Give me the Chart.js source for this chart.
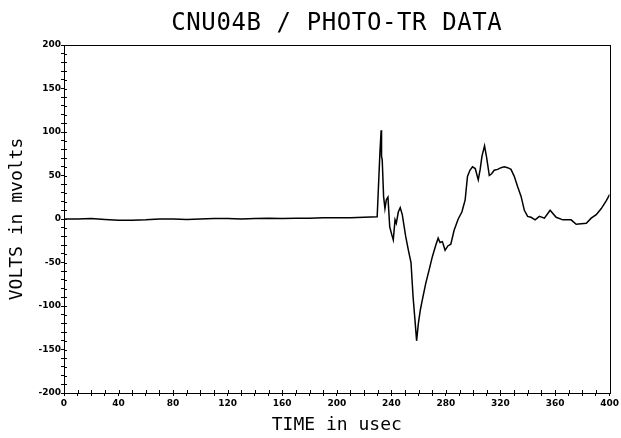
<!DOCTYPE html>
<html><head><meta charset="utf-8">
<script src="https://cdn.jsdelivr.net/npm/chart.js@4.4.0/dist/chart.umd.min.js"></script>
<style>html,body{margin:0;padding:0;background:#fff;}</style>
</head><body>
<canvas id="c" width="621" height="438" style="width:621px;height:438px;display:block"></canvas>
<script>
const titleText = 'CNU04B / PHOTO-TR DATA';
const xTitle = 'TIME in usec';
const yTitle = 'VOLTS in mvolts';
const xTickLabels = [0, 40, 80, 120, 160, 200, 240, 280, 320, 360, 400];
const yTickLabels = [-200, -150, -100, -50, 0, 50, 100, 150, 200];

const times = [0,10,20,30,40,50,60,70,80,90,100,110,120,130,140,150,160,170,180,190,200,210,220,229.6,
  231.6,232.5,232.8,233.3,234.3,235.3,236.3,237.5,238.8,240.3,241.4,242.7,243.6,245.1,246.5,248.0,
  250.5,252.5,254.4,255.9,257.4,258.5,259.8,261.3,262.7,265.2,267.6,270.1,272.6,274.3,275.7,277.4,
  279.4,281.4,283.6,286.0,289.0,291.7,294.1,295.8,297.6,299.5,301.5,303.7,305.1,306.4,308.3,309.8,
  311.8,313.5,315.4,317.9,320.4,322.8,325.2,327.7,330.1,332.6,335.1,337.5,339.9,342.4,345.4,348.5,
  352.2,356.4,360.8,365.7,371.8,375.5,382.9,386.5,390.2,393.9,397.6,400];
const volts = [0,0,0.5,-0.5,-1.5,-1.5,-1,0,0,-0.5,0,0.5,0.5,0,0.5,1,0.5,1,1,1.5,1.5,1.5,2,2.6,
  76,102,72,68,26,12,22,25,-9,-18,-24,-1,-5,8,13,5,
  -20,-36,-50,-89,-118,-140,-120,-104,-93,-74,-59,-43,-30,-22,-27,-26,
  -36,-31,-29,-13,0,8,22,49,56,60,58,45,57,72,84,71,
  50,52,56,57,59,60,59,57,49,37,26,10,3,2,-1,3,
  1,10,2,-1,-1,-6,-5,1,5,12,21,28];

const frame = {
  id: 'frame',
  afterDraw(chart) {
    const {ctx, chartArea: a, scales: {x, y}} = chart;
    ctx.save();
    ctx.strokeStyle = '#000';
    ctx.lineWidth = 1;
    ctx.strokeRect(Math.round(a.left) + 0.5, Math.round(a.top) + 0.5,
      Math.round(a.right - a.left), Math.round(a.bottom - a.top));
    ctx.beginPath();
    x.ticks.forEach(t => {
      const px = Math.round(x.getPixelForValue(t.value)) + 0.5;
      ctx.moveTo(px, a.bottom); ctx.lineTo(px, a.bottom - 3);
    });
    y.ticks.forEach(t => {
      const py = Math.round(y.getPixelForValue(t.value)) + 0.5;
      ctx.moveTo(a.left, py); ctx.lineTo(a.left + 3, py);
    });
    ctx.stroke();
    // chart title, centred over the plot area
    ctx.fillStyle = '#000';
    ctx.font = 'normal 24px "DejaVu Sans Mono"';
    if ('letterSpacing' in ctx) ctx.letterSpacing = '0.6px';
    ctx.textAlign = 'center';
    ctx.textBaseline = 'alphabetic';
    ctx.fillText(titleText, (a.left + a.right) / 2, 30);
    ctx.restore();
  }
};

const tickFont = {family: 'DejaVu Sans', size: 9, weight: 'bold'};
const titleFont = {family: 'DejaVu Sans Mono', size: 18, weight: 'normal'};

new Chart(document.getElementById('c'), {
  type: 'line',
  data: {
    datasets: [{
      data: times.map((t, i) => ({x: t, y: volts[i]})),
      borderColor: '#000',
      borderWidth: 1.5,
      pointRadius: 0,
      tension: 0,
      fill: false
    }]
  },
  options: {
    responsive: false,
    animation: false,
    layout: {padding: {left: 0, right: 10, top: 45, bottom: 0}},
    plugins: {
      legend: {display: false},
      tooltip: {enabled: false},
      title: {display: false}
    },
    scales: {
      x: {
        type: 'linear',
        min: 0, max: 400,
        afterFit(s) { s.height = 45; },
        grid: {drawOnChartArea: false, drawTicks: true, tickLength: 3, color: '#000', lineWidth: 1},
        border: {display: true, color: '#000', width: 1},
        ticks: {
          stepSize: 10, autoSkip: false, maxRotation: 0, padding: 2,
          color: '#000', font: tickFont,
          callback: v => xTickLabels.includes(v) ? String(v) : ''
        },
        title: {display: true, text: xTitle, color: '#000', font: titleFont, padding: {top: 0, bottom: 2}}
      },
      y: {
        type: 'linear',
        min: -200, max: 200,
        afterFit(s) { s.width = 64; },
        grid: {drawOnChartArea: false, drawTicks: true, tickLength: 3, color: '#000', lineWidth: 1},
        border: {display: true, color: '#000', width: 1},
        ticks: {
          stepSize: 10, autoSkip: false, padding: 0,
          color: '#000', font: tickFont,
          callback: v => yTickLabels.includes(v) ? String(v) : ''
        },
        title: {display: true, text: yTitle, color: '#000', font: titleFont, padding: {top: 7, bottom: 0}}
      }
    }
  },
  plugins: [frame]
});
</script>
</body></html>
